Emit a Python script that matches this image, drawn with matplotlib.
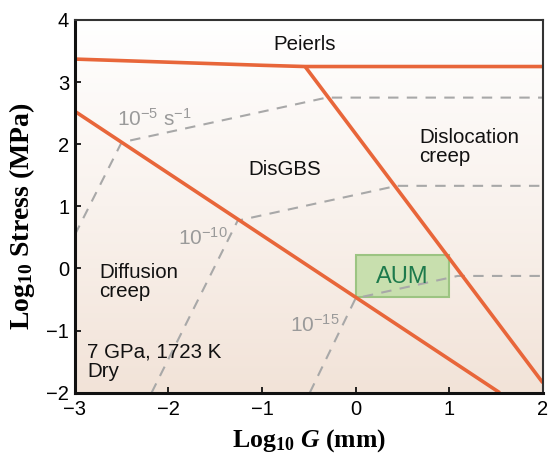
import numpy as np
import matplotlib
matplotlib.use("Agg")
import matplotlib.pyplot as plt
from matplotlib.colors import LinearSegmentedColormap
from matplotlib.patches import Rectangle

plt.rcParams["mathtext.fontset"] = "custom"
plt.rcParams["mathtext.rm"] = "Liberation Serif:bold"
plt.rcParams["mathtext.bf"] = "Liberation Serif:bold"
plt.rcParams["mathtext.it"] = "Liberation Serif:italic:bold"
plt.rcParams["mathtext.bfit"] = "Liberation Serif:italic:bold"

# ---- data (log10 grain size in mm, log10 stress in MPa) ----
peierls_x = [-3.0, -2.0, -1.0, -0.54, 0.5, 2.0]
peierls_y = [3.37, 3.32, 3.27, 3.25, 3.25, 3.25]

diff_gbs_x = [-3.0, 1.54]
diff_gbs_y = [2.53, -2.0]

gbs_disl_x = [-0.54, 2.0]
gbs_disl_y = [3.25, -1.84]

rate_e5_x = [-3.0, -2.5, -0.31, 2.0]
rate_e5_y = [0.54, 2.03, 2.75, 2.75]

rate_e10_x = [-2.18, -1.26, 0.44, 2.0]
rate_e10_y = [-2.0, 0.77, 1.33, 1.33]

rate_e15_x = [-0.49, 0.0, 1.09, 2.0]
rate_e15_y = [-2.0, -0.48, -0.12, -0.12]

aum_x = [0.0, 1.0]
aum_y = [-0.46, 0.22]

xticks = [-3, -2, -1, 0, 1, 2]
yticks = [-2, -1, 0, 1, 2, 3, 4]

# ---- figure ----
fig = plt.figure(figsize=(5.5, 4.53), dpi=100)
ax = fig.add_axes([0.136, 0.133, 0.851, 0.823])
ax.set_xlim(-3, 2)
ax.set_ylim(-2, 4)

cmap = LinearSegmentedColormap.from_list("bg", ["#f2e3d8", "#f9f2ed", "#ffffff"])
grad = np.linspace(0, 1, 256).reshape(-1, 1)
ax.imshow(grad, extent=[-3, 2, -2, 4], origin="lower", cmap=cmap,
          aspect="auto", zorder=0)

orange = "#e8663a"
gray = "#a8a8a8"

for xs, ys in [(rate_e5_x, rate_e5_y), (rate_e10_x, rate_e10_y), (rate_e15_x, rate_e15_y)]:
    ax.plot(xs, ys, color=gray, lw=1.5, dashes=(5, 4), zorder=3)

ax.add_patch(Rectangle((aum_x[0], aum_y[0]), aum_x[1] - aum_x[0], aum_y[1] - aum_y[0],
                       facecolor="#c8dfae", edgecolor="#9cc482", lw=1.5, zorder=2))
ax.text((aum_x[0] + aum_x[1]) / 2, (aum_y[0] + aum_y[1]) / 2 - 0.02, "AUM",
        color="#1d7a4c", fontsize=17, ha="center", va="center",
        family="Liberation Sans", zorder=4)

for xs, ys in [(peierls_x, peierls_y), (diff_gbs_x, diff_gbs_y), (gbs_disl_x, gbs_disl_y)]:
    ax.plot(xs, ys, color=orange, lw=2.6, zorder=5, solid_capstyle="butt")

tf = dict(family="Liberation Sans", fontsize=14.8, color="#111111")
ax.text(-0.54, 3.6, "Peierls", ha="center", va="center", **tf)
ax.text(-0.76, 1.6, "DisGBS", ha="center", va="center", **tf)
ax.text(0.68, 1.95, "Dislocation\ncreep", ha="left", va="center", linespacing=1.0, **tf)
ax.text(-2.74, -0.22, "Diffusion\ncreep", ha="left", va="center", linespacing=1.0, **tf)
ax.text(-2.87, -1.5, "7 GPa, 1723 K\nDry", ha="left", va="center", linespacing=1.0, **tf)

gf = dict(family="Liberation Sans", fontsize=15, color="#9a9a9a")
ax.text(-2.55, 2.4, r"10$^{\mathregular{-5}}$ s$^{\mathregular{-1}}$", ha="left", va="center", **gf)
ax.text(-1.9, 0.48, r"10$^{\mathregular{-10}}$", ha="left", va="center", **gf)
ax.text(-0.7, -0.92, r"10$^{\mathregular{-15}}$", ha="left", va="center", **gf)

ax.set_xticks(xticks)
ax.set_yticks(yticks)
ax.set_xticklabels([str(t).replace("-", "\u2212") for t in xticks])
ax.set_yticklabels([str(t).replace("-", "\u2212") for t in yticks])
ax.tick_params(direction="in", length=4, width=1.2, labelsize=14.5)
ax.tick_params(axis="x", pad=5)
ax.tick_params(axis="y", pad=4)
for lab in ax.get_xticklabels() + ax.get_yticklabels():
    lab.set_family("Liberation Sans")

for s in ["left", "bottom"]:
    ax.spines[s].set_linewidth(2.2)
    ax.spines[s].set_color("#111111")
for s in ["top", "right"]:
    ax.spines[s].set_linewidth(1.5)
    ax.spines[s].set_color("#333333")
for s in ax.spines.values():
    s.set_zorder(6)

ax.set_xlabel(r"Log$_{\mathbf{10}}$ $\mathbfit{G}$ (mm)",
              family="Liberation Serif", fontsize=18.5, fontweight="bold")
ax.set_ylabel(r"Log$_{\mathbf{10}}$ Stress (MPa)",
              family="Liberation Serif", fontsize=20, fontweight="bold")
ax.xaxis.set_label_coords(0.5, -0.092)
ax.yaxis.set_label_coords(-0.08, 0.475)

fig.savefig("out.png", dpi=100)
